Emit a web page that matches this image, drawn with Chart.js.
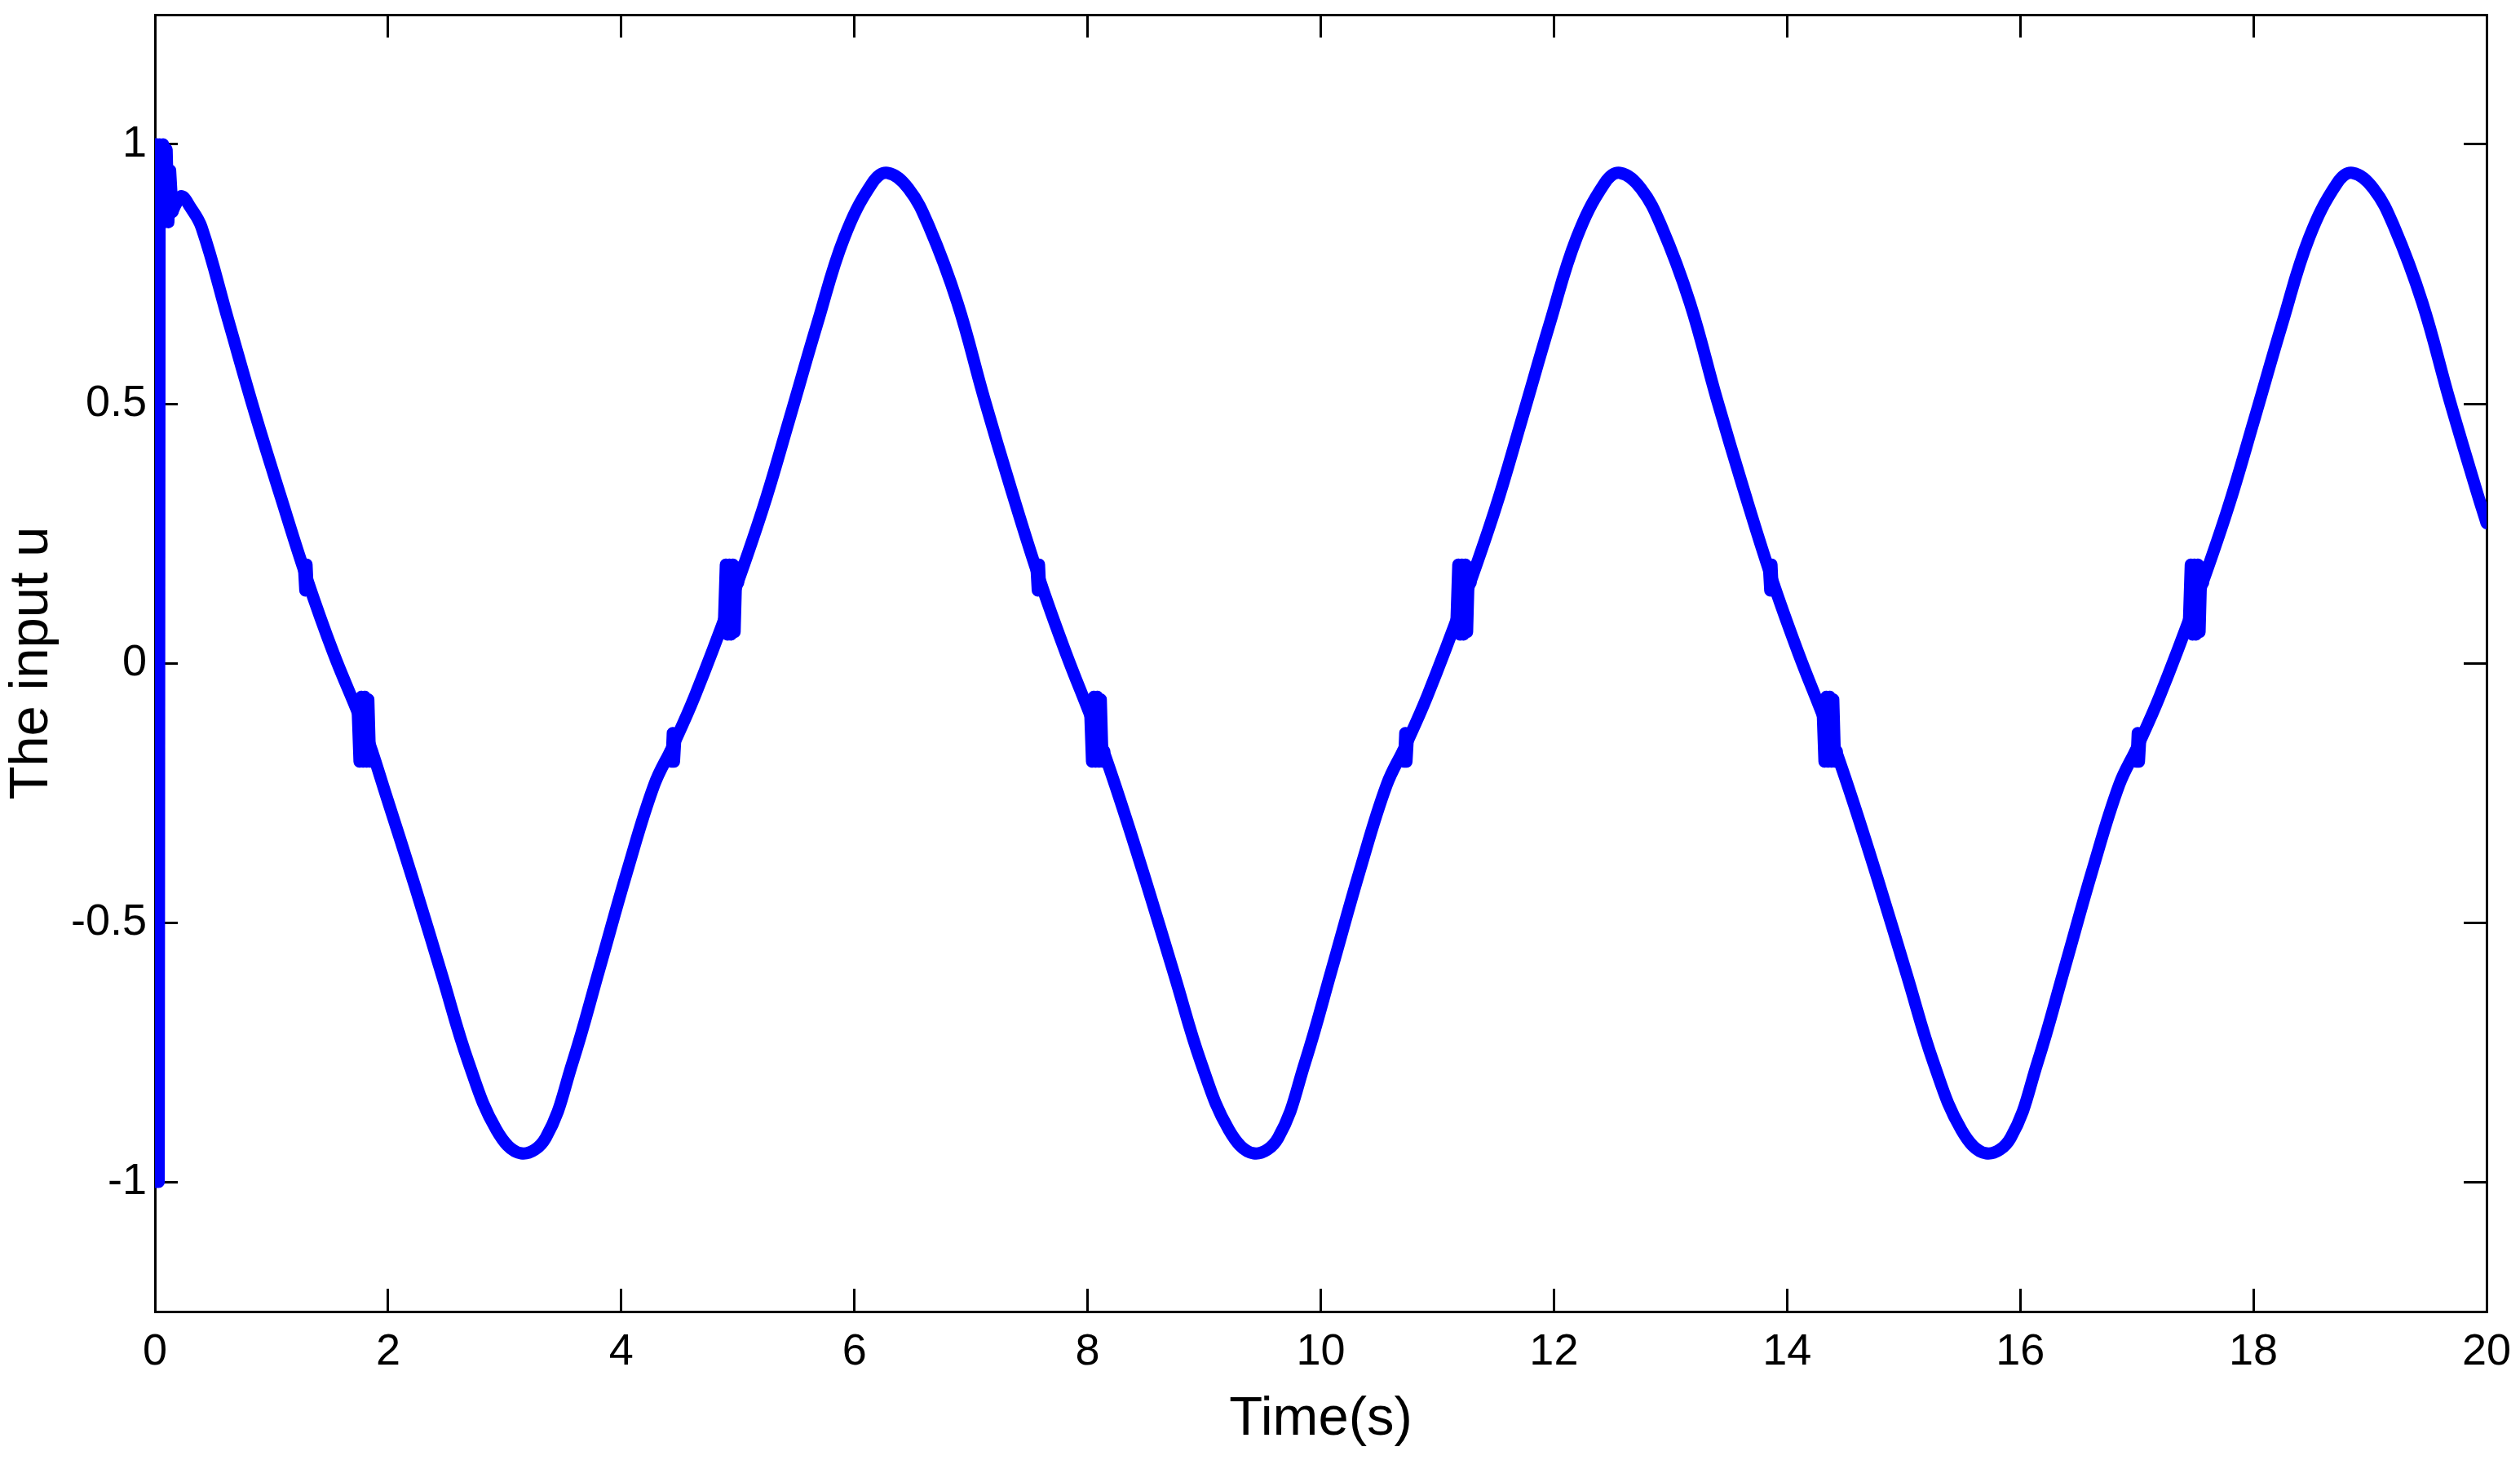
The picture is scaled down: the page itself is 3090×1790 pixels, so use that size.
<!DOCTYPE html>
<html>
<head>
<meta charset="utf-8">
<script src="https://cdn.jsdelivr.net/npm/chart.js@4.4.1/dist/chart.umd.min.js"></script>
<style>
  body { margin: 0; background: #fff; }
</style>
</head>
<body>
<canvas id="inputChart" width="3090" height="1790"></canvas>
<script>
// smooth part of the input, one line per half cycle
const timeS = [
  0.15, 0.18, 0.23, 0.3, 0.4, 0.63, 0.86, 1.08, 1.3, 1.53, 1.8, 1.99, 2.23, 2.46, 2.69, 2.93, 3.142,
  3.352, 3.582, 3.812, 4.052, 4.282, 4.442, 4.632, 4.942, 5.212, 5.442, 5.682, 5.912, 6.152, 6.283,
  6.463, 6.643, 6.883, 7.113, 7.343, 7.583, 7.813, 8.073, 8.273, 8.513, 8.743, 8.973, 9.213, 9.425,
  9.635, 9.865, 10.095, 10.335, 10.565, 10.725, 10.915, 11.225, 11.495, 11.725, 11.965, 12.195, 12.435, 12.566,
  12.746, 12.926, 13.166, 13.396, 13.626, 13.866, 14.096, 14.356, 14.556, 14.796, 15.026, 15.256, 15.496, 15.708,
  15.918, 16.148, 16.378, 16.618, 16.848, 17.008, 17.198, 17.508, 17.778, 18.008, 18.248, 18.478, 18.718, 18.849,
  19.029, 19.209, 19.449, 19.679, 19.909, 20
];
const inputU = [
  0.87, 0.885, 0.9, 0.88, 0.84, 0.66, 0.48, 0.32, 0.165, 0.02, -0.13, -0.26, -0.43, -0.6, -0.77, -0.9, -0.945,
  -0.915, -0.77, -0.59, -0.4, -0.235, -0.16, -0.063, 0.12, 0.296, 0.47, 0.655, 0.82, 0.925, 0.945,
  0.915, 0.84, 0.695, 0.51, 0.336, 0.165, 0.02, -0.13, -0.26, -0.43, -0.6, -0.77, -0.9, -0.945,
  -0.915, -0.77, -0.59, -0.4, -0.235, -0.16, -0.063, 0.12, 0.296, 0.47, 0.655, 0.82, 0.925, 0.945,
  0.915, 0.84, 0.695, 0.51, 0.336, 0.165, 0.02, -0.13, -0.26, -0.43, -0.6, -0.77, -0.9, -0.945,
  -0.915, -0.77, -0.59, -0.4, -0.235, -0.16, -0.063, 0.12, 0.296, 0.47, 0.655, 0.82, 0.925, 0.945,
  0.915, 0.84, 0.695, 0.51, 0.336, 0.27
];

// chattering bursts (null = gap between bursts)
const chatterT = [
  0, 0.008, 0.016, 0.024, 0.032, 0.04, 0.055, 0.07, 0.085, 0.1, 0.115, 0.13, 0.15, 0.2,
  1.28, 1.29, 1.3, 1.31, 1.32, 1.5,
  1.74, 1.755, 1.77, 1.785, 1.8, 1.815, 1.83, 1.845, 1.86, 2.0,
  4.422, 4.432, 4.442, 4.452, 4.462, 4.6,
  4.882, 4.897, 4.912, 4.927, 4.942, 4.957, 4.972, 4.987, 5.002, 5.1,
  7.563, 7.573, 7.583, 7.593, 7.603, 7.7,
  8.023, 8.038, 8.053, 8.068, 8.083, 8.098, 8.113, 8.128, 8.143, 8.2,
  10.705, 10.715, 10.725, 10.735, 10.745, 10.9,
  11.165, 11.18, 11.195, 11.21, 11.225, 11.24, 11.255, 11.27, 11.285, 11.4,
  13.846, 13.856, 13.866, 13.876, 13.886, 14.0,
  14.306, 14.321, 14.336, 14.351, 14.366, 14.381, 14.396, 14.411, 14.426, 14.5,
  16.988, 16.998, 17.008, 17.018, 17.028, 17.2,
  17.448, 17.463, 17.478, 17.493, 17.508, 17.523, 17.538, 17.553, 17.568
];
const chatterU = [
  -1, 1, -1, 1, -1, 1, 0.86, 1, 0.85, 0.99, 0.85, 0.95, 0.87, null,
  0.18, 0.14, 0.19, 0.14, 0.15, null,
  -0.095, -0.19, -0.065, -0.19, -0.065, -0.19, -0.07, -0.19, -0.17, null,
  -0.17, -0.19, -0.135, -0.19, -0.15, null,
  0.085, 0.19, 0.055, 0.19, 0.055, 0.19, 0.06, 0.185, 0.155, null,
  0.18, 0.14, 0.19, 0.14, 0.15, null,
  -0.095, -0.19, -0.065, -0.19, -0.065, -0.19, -0.07, -0.19, -0.17, null,
  -0.17, -0.19, -0.135, -0.19, -0.15, null,
  0.085, 0.19, 0.055, 0.19, 0.055, 0.19, 0.06, 0.185, 0.155, null,
  0.18, 0.14, 0.19, 0.14, 0.15, null,
  -0.095, -0.19, -0.065, -0.19, -0.065, -0.19, -0.07, -0.19, -0.17, null,
  -0.17, -0.19, -0.135, -0.19, -0.15, null,
  0.085, 0.19, 0.055, 0.19, 0.055, 0.19, 0.06, 0.185, 0.155
];

const xTicks = [0, 2, 4, 6, 8, 10, 12, 14, 16, 18, 20];
const yTicks = [-1, -0.5, 0, 0.5, 1];

const smoothPoints = timeS.map((t, i) => ({ x: t, y: inputU[i] }));
const chatterPoints = chatterT.map((t, i) => ({ x: t, y: chatterU[i] }));

const fontFamily = "'Liberation Sans', Arial, sans-serif";
const tickFont = { family: fontFamily, size: 54, lineHeight: 1 };
const titleFont = { family: fontFamily, size: 67, lineHeight: 1 };
// negative tick length puts the tick marks inside the box
const gridOpts = { drawOnChartArea: false, color: '#000', lineWidth: 3, tickLength: -28 };
const borderOpts = { color: '#000', width: 3 };

const setTicks = list => axis => { axis.ticks = list.map(v => ({ value: v })); };
const fixSize = (key, px) => s => {
  s[key] = px;
  s.paddingTop = 0; s.paddingBottom = 0; s.paddingLeft = 0; s.paddingRight = 0;
};

const lineStyle = {
  borderColor: '#0000ff',
  borderWidth: 15,
  pointRadius: 0,
  fill: false,
  borderJoinStyle: 'round',
  borderCapStyle: 'round'
};

new Chart(document.getElementById('inputChart'), {
  type: 'line',
  data: {
    datasets: [
      { ...lineStyle, data: smoothPoints, tension: 0.4 },
      { ...lineStyle, data: chatterPoints, tension: 0, spanGaps: false }
    ]
  },
  options: {
    responsive: false,
    devicePixelRatio: 1,
    animation: false,
    layout: { padding: 0 },
    plugins: { legend: { display: false }, tooltip: { enabled: false } },
    scales: {
      x: {
        type: 'linear', position: 'bottom', min: 0, max: 20,
        afterBuildTicks: setTicks(xTicks),
        afterFit: fixSize('height', 182),
        grid: gridOpts, border: borderOpts,
        ticks: { font: tickFont, color: '#000', padding: 51, maxRotation: 0, autoSkip: false, callback: v => String(v) },
        title: { display: true, text: 'Time(s)', font: titleFont, color: '#000', padding: { top: 0, bottom: 16 } }
      },
      x2: {
        type: 'linear', position: 'top', min: 0, max: 20,
        afterBuildTicks: setTicks(xTicks),
        afterFit: fixSize('height', 18),
        grid: gridOpts, border: borderOpts,
        ticks: { display: false }
      },
      y: {
        type: 'linear', position: 'left', min: -1.25, max: 1.25,
        afterBuildTicks: setTicks(yTicks),
        afterFit: fixSize('width', 190),
        grid: gridOpts, border: borderOpts,
        ticks: { font: tickFont, color: '#000', padding: 38, callback: v => String(v) },
        title: { display: true, text: 'The input u', font: titleFont, color: '#000', padding: { top: 6, bottom: 0 } }
      },
      y2: {
        type: 'linear', position: 'right', min: -1.25, max: 1.25,
        afterBuildTicks: setTicks(yTicks),
        afterFit: fixSize('width', 41),
        grid: gridOpts, border: borderOpts,
        ticks: { display: false }
      }
    }
  }
});
</script>
</body>
</html>
